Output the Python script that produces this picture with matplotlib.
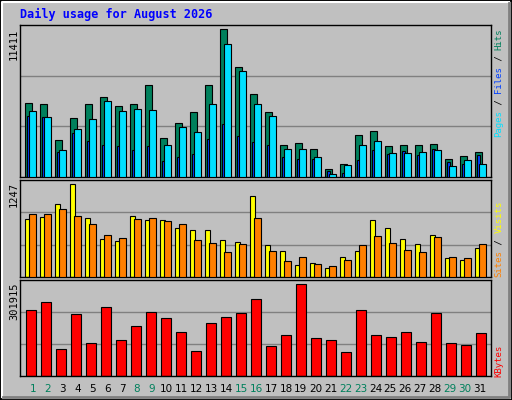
import matplotlib
matplotlib.use("Agg")
import matplotlib.pyplot as plt
from matplotlib.patches import Rectangle
import numpy as np

days = list(range(1, 32))
weekend = [1, 2, 8, 9, 15, 16, 22, 23, 29, 30]

hits = [5757, 5603, 2892, 4596, 5680, 6145, 5525, 5603, 7074, 3047, 4208, 5060, 7074, 11411, 8469, 6377,
        5060, 2504, 2659, 2195, 645, 1033, 3279, 3589, 2427, 2504, 2504, 2582, 1420, 1652, 1962]
files = [5138, 4673, 2117, 3744, 4518, 5835, 5138, 5293, 5216, 2504, 3899, 3511, 5680, 10250, 8159, 5680,
         4751, 2195, 2195, 1575, 258, 955, 2504, 2814, 1885, 1885, 1962, 2117, 878, 1343, 1033]
pages = [4751, 4673, 1962, 3434, 2814, 2504, 2427, 2117, 2427, 1265, 1575, 1807, 2969, 4131, 3202, 2737,
         2504, 1575, 1420, 1420, 491, 336, 1343, 2117, 1807, 2040, 1730, 2195, 1188, 1033, 1730]
visits = [774, 801, 977, 1247, 788, 518, 491, 815, 761, 761, 666, 639, 626, 504, 477, 1085,
          437, 356, 167, 194, 126, 275, 356, 761, 666, 518, 450, 572, 261, 234, 396]
sites = [842, 842, 909, 815, 720, 572, 531, 774, 788, 747, 720, 504, 464, 342, 450, 788,
         356, 221, 275, 180, 153, 234, 437, 558, 464, 369, 342, 545, 275, 261, 450]
kbytes = [215972, 242418, 90356, 202750, 110190, 225890, 120107, 163081, 209361, 189527, 146553, 83744,
          172998, 192833, 206055, 252335, 100273, 136636, 301915, 126719, 120107, 80439, 215972, 136636,
          130024, 146553, 113496, 206055, 110190, 103579, 143247]

W, H = 512, 400
BG = "#c0c0c0"
fig = plt.figure(figsize=(W / 100, H / 100), dpi=100, facecolor=BG)
mono = "DejaVu Sans Mono"

# bevel border
fig.patches.append(Rectangle((0, 0), 1, 1, transform=fig.transFigure, fill=False, ec="black", lw=2))
fig.add_artist(plt.Line2D([2 / W, 2 / W, 1 - 3 / W], [3 / H, 1 - 2 / H, 1 - 2 / H],
                          transform=fig.transFigure, color="white", lw=1.5))
fig.add_artist(plt.Line2D([3 / W, 1 - 3 / W, 1 - 3 / W], [3 / H, 3 / H, 1 - 3 / H],
                          transform=fig.transFigure, color="#808080", lw=2))


def px(x, y):
    return x / W, 1 - y / H


SLOT = 15.0  # pixels per day


def make_ax(top, bottom):
    l, r = 20, 491
    ax = fig.add_axes([l / W, 1 - bottom / H, (r - l) / W, (bottom - top) / H])
    ax.set_facecolor(BG)
    ax.set_xlim(0, (r - l) / SLOT)
    ax.set_xticks([])
    ax.set_yticks([])
    for s in ax.spines.values():
        s.set_color("black")
        s.set_linewidth(1)
    return ax


x = np.array(days) - 1.0

ax1 = make_ax(25, 177)
top1 = max(hits) * 455 / 442
ax1.set_ylim(0, top1)
for f in (1 / 3, 2 / 3):
    ax1.axhline(top1 * f, color="#808080", lw=1, zorder=0)
ax1.bar(x + 0.35, hits, 0.47, align="edge", color="#00805c", ec="black", lw=0.8, zorder=2)
ax1.bar(x + 0.44, pages, 0.25, align="edge", color="#0040ff", ec="black", lw=0.8, zorder=3)
ax1.bar(x + 0.61, files, 0.46, align="edge", color="#00e0ff", ec="black", lw=0.8, zorder=4)

ax2 = make_ax(180, 277)
top2 = max(visits) * 290 / 277
ax2.set_ylim(0, top2)
for f in (1 / 3, 2 / 3):
    ax2.axhline(top2 * f, color="#808080", lw=1, zorder=0)
ax2.bar(x + 0.35, visits, 0.33, align="edge", color="#ffff00", ec="black", lw=0.8, zorder=2)
ax2.bar(x + 0.61, sites, 0.46, align="edge", color="#ff8000", ec="black", lw=0.8, zorder=3)

ax3 = make_ax(280, 376)
top3 = max(kbytes) * 287 / 274
ax3.set_ylim(0, top3)
for f in (1 / 3, 2 / 3):
    ax3.axhline(top3 * f, color="#808080", lw=1, zorder=0)
ax3.bar(x + 0.41, kbytes, 0.64, align="edge", color="#ff0000", ec="black", lw=0.8, zorder=2)

# title
fig.text(*px(20, 14), "Daily usage for August 2026", color="#0000ff", fontsize=8.5,
         fontweight="bold", family=mono, va="center", ha="left")

# max labels
for y, s in [(29, str(max(hits))), (182, str(max(visits))), (282, str(max(kbytes)))]:
    fig.text(*px(14, y), s, rotation=90, fontsize=7.5, family=mono, ha="center", va="top")


# right-side legends, read bottom to top
def legend(bottom_y, parts):
    y = bottom_y
    step = 5.45
    for s, c in parts:
        fig.text(*px(499, y), s, rotation=90, fontsize=6.5, family=mono, color=c,
                 ha="center", va="bottom")
        y -= step * len(s)


legend(137, [("Pages", "#00e0ff"), (" / ", "black"), ("Files", "#0040ff"), (" / ", "black"), ("Hits", "#00805c")])
legend(277, [("Sites", "#ff8000"), (" / ", "black"), ("Visits", "#ffff00")])
legend(377, [("KBytes", "#ff0000")])

# day labels
for d in days:
    xx = 32.7 + (d - 1) * 14.9
    fig.text(*px(xx, 389), str(d), fontsize=7.5, ha="center", va="center",
             color="#00805c" if d in weekend else "black")

fig.savefig("out.png", dpi=100, facecolor=BG)
